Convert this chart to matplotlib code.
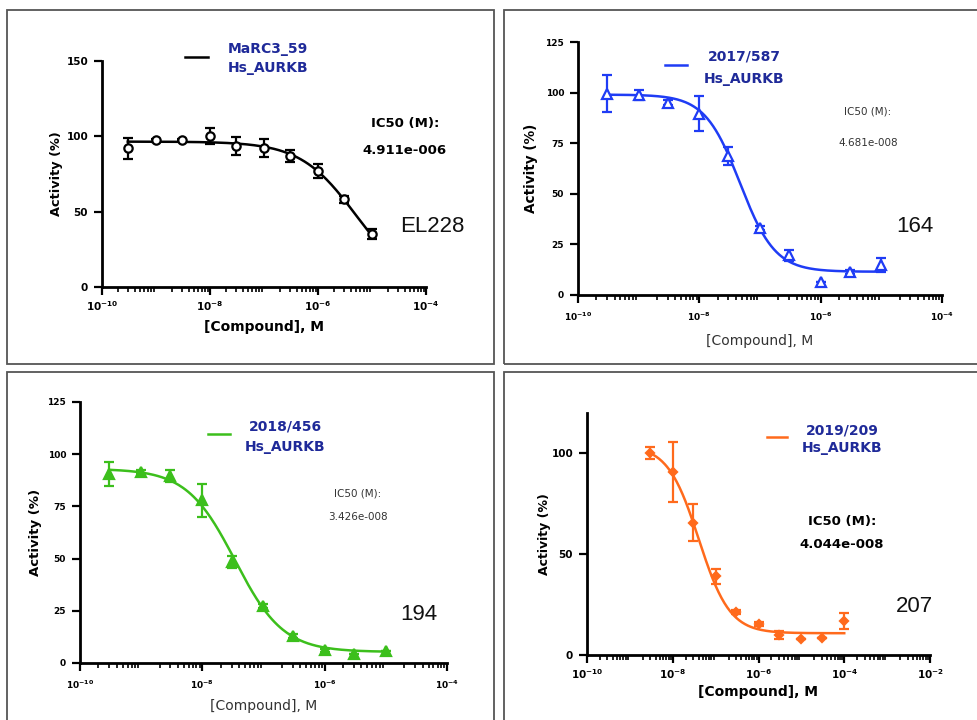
import numpy as np
import matplotlib
matplotlib.use("Agg")
import matplotlib.pyplot as plt
from matplotlib.lines import Line2D
from matplotlib.patches import Rectangle
from matplotlib.ticker import LogLocator, FixedLocator, FixedFormatter, NullFormatter

W, H = 978, 720

# concentrations (M)
conc_a = [3e-10, 1e-9, 3e-9, 1e-8, 3e-8, 1e-7, 3e-7, 1e-6, 3e-6, 1e-5]
conc_b = [3e-9, 1e-8, 3e-8, 1e-7, 3e-7, 1e-6, 3e-6, 1e-5, 3e-5, 1e-4]

# activity (%) and SD per compound
act_el228 = [92.0, 97.3, 97.7, 100.2, 93.8, 92.4, 87.1, 77.0, 58.2, 35.3]
err_el228 = [7.0, 0.8, 0.8, 5.0, 6.0, 6.0, 4.0, 4.5, 2.5, 3.3]

act_164 = [99.5, 98.8, 95.1, 89.6, 68.8, 32.9, 19.6, 6.3, 11.5, 14.8]
err_164 = [9.0, 2.4, 1.0, 8.6, 4.4, 1.0, 2.6, 0.0, 1.0, 3.3]

act_194 = [90.5, 91.5, 89.6, 77.9, 48.4, 27.3, 12.9, 6.1, 4.3, 5.7]
err_194 = [5.6, 1.0, 2.7, 8.0, 3.0, 0.8, 0.8, 0.8, 0.0, 0.0]

act_207 = [100.0, 90.7, 65.5, 39.0, 21.4, 15.4, 10.0, 8.1, 8.5, 16.7]
err_207 = [3.0, 14.8, 9.2, 3.6, 1.0, 1.0, 2.0, 0.0, 0.0, 4.0]

# fitted 4PL parameters: top, bottom, IC50, hill
fit_el228 = [96.5, 0.0, 4.911e-6, 0.85]
fit_164 = [99.0, 11.5, 4.681e-8, 1.5]
fit_194 = [93.0, 5.3, 3.426e-8, 1.1]
fit_207 = [104.0, 10.8, 4.044e-8, 1.2]

names = ["MaRC3_59", "2017/587", "2018/456", "2019/209"]
ic50_labels = ["4.911e-006", "4.681e-008", "3.426e-008", "4.044e-008"]
big_labels = ["EL228", "164", "194", "207"]

NAVY = "#1f2a99"


def fx(x):
    return x / W


def fy(y):
    return 1 - y / H


def four_pl(x, top, bottom, ic50, hill):
    return bottom + (top - bottom) / (1 + (x / ic50) ** hill)


def decade_labels(exps):
    return [r"$\mathbf{10}^{\mathbf{%d}}$" % e for e in exps]


fig = plt.figure(figsize=(W / 100, H / 100), dpi=100)

# panel frames
for x0, y0, x1, y1 in [(7, 10, 494, 364), (504, 10, 990, 364),
                       (7, 372, 494, 730), (504, 372, 990, 730)]:
    fig.add_artist(Rectangle((fx(x0), fy(y1)), fx(x1 - x0), (y1 - y0) / H,
                             transform=fig.transFigure, fill=False,
                             edgecolor="#555555", linewidth=1.3))

panels = [
    dict(box=(102, 61, 426, 287), conc=conc_a, act=act_el228, err=err_el228, fit=fit_el228,
         color="black", marker="o", mfc="white", ms=6, ylim=150, yticks=[0, 50, 100, 150],
         xexp=[-10, -8, -6, -4], bold=True, tick_fs=7.5, lab_fs=10, xpad=3, xlpad=4.5,
         ylab_fs=9.3, ylpad=2.5,
         legend=(185, 208, 57, 268, 49, 68), ic=(405, 124, 151), big=(432, 227)),
    dict(box=(578, 42, 942, 295), conc=conc_a, act=act_164, err=err_164, fit=fit_164,
         color="#1f3cf5", marker="^", mfc="white", ms=7, ylim=125, yticks=[0, 25, 50, 75, 100, 125],
         xexp=[-10, -8, -6, -4], bold=False, tick_fs=6.5, lab_fs=10, xpad=5, xlpad=8.5,
         ylab_fs=9.8, ylpad=5,
         legend=(665, 687, 65, 744, 57, 79), ic=(868, 111, 143), big=(915, 227)),
    dict(box=(80, 402, 447, 663), conc=conc_a, act=act_194, err=err_194, fit=fit_194,
         color="#3cbf1c", marker="^", mfc=None, ms=6.5, ylim=125, yticks=[0, 25, 50, 75, 100, 125],
         xexp=[-10, -8, -6, -4], bold=False, tick_fs=6.5, lab_fs=10, xpad=5, xlpad=6,
         ylab_fs=9.5, ylpad=4,
         legend=(208, 230, 434, 285, 427, 447), ic=(358, 493, 517), big=(419, 614)),
    dict(box=(587, 413, 930, 655), conc=conc_b, act=act_207, err=err_207, fit=fit_207,
         color="#ff6a1c", marker="D", mfc=None, ms=4.2, ylim=120, yticks=[0, 50, 100],
         xexp=[-10, -8, -6, -4, -2], bold=True, tick_fs=7.5, lab_fs=10, xpad=3, xlpad=3,
         ylab_fs=9, ylpad=0,
         legend=(767, 787, 437, 842, 430, 448), ic=(842, 521, 544), big=(914, 607)),
]

for i, p in enumerate(panels):
    x0, y0, x1, y1 = p["box"]
    ax = fig.add_axes([fx(x0), fy(y1), fx(x1 - x0), (y1 - y0) / H])
    c = p["color"]

    xs = np.logspace(np.log10(p["conc"][0]), np.log10(p["conc"][-1]), 200)
    ax.plot(xs, four_pl(xs, *p["fit"]), color=c, linewidth=1.8, clip_on=False)
    ax.errorbar(p["conc"], p["act"], yerr=p["err"], fmt=p["marker"], color=c,
                ecolor=c, elinewidth=1.6, capsize=3.5, capthick=1.6,
                markersize=p["ms"], markeredgewidth=1.6,
                markerfacecolor=p["mfc"] if p["mfc"] else c, clip_on=False)

    ax.set_xscale("log")
    ax.set_xlim(10.0 ** p["xexp"][0], 10.0 ** p["xexp"][-1])
    ax.set_ylim(0, p["ylim"])
    ax.xaxis.set_major_locator(FixedLocator([10.0 ** e for e in p["xexp"]]))
    ax.xaxis.set_major_formatter(FixedFormatter(decade_labels(p["xexp"])))
    ax.xaxis.set_minor_locator(LogLocator(base=10, subs=np.arange(2, 10), numticks=30))
    ax.xaxis.set_minor_formatter(NullFormatter())
    ax.set_yticks(p["yticks"])

    for s in ["top", "right"]:
        ax.spines[s].set_visible(False)
    for s in ["left", "bottom"]:
        ax.spines[s].set_linewidth(2)
    ax.tick_params(which="major", direction="out", length=6, width=1.6,
                   labelsize=p["tick_fs"], pad=4)
    ax.tick_params(which="minor", direction="out", length=3.5, width=1.2)
    ax.tick_params(axis="x", which="major", pad=p["xpad"])
    for lab in ax.get_yticklabels():
        lab.set_fontweight("bold")

    weight = "bold" if p["bold"] else "normal"
    tcol = "black" if p["bold"] else "#333333"
    ax.set_xlabel("[Compound], M", fontsize=p["lab_fs"], fontweight=weight, color=tcol,
                  labelpad=p["xlpad"])
    ax.set_ylabel("Activity (%)", fontsize=p["ylab_fs"], fontweight="bold", labelpad=p["ylpad"])

    lx0, lx1, ly, tx, ty1, ty2 = p["legend"]
    fig.add_artist(Line2D([fx(lx0), fx(lx1)], [fy(ly), fy(ly)], color=c, linewidth=1.8,
                          transform=fig.transFigure))
    fig.text(fx(tx), fy(ty1), names[i], color=NAVY, fontsize=10, fontweight="bold",
             ha="center", va="center")
    fig.text(fx(tx), fy(ty2), "Hs_AURKB", color=NAVY, fontsize=10, fontweight="bold",
             ha="center", va="center")

    icx, icy1, icy2 = p["ic"]
    ic_fs = 9.5 if p["bold"] else 7.5
    fig.text(fx(icx), fy(icy1), "IC50 (M):", fontsize=ic_fs, fontweight=weight, color=tcol,
             ha="center", va="center")
    fig.text(fx(icx), fy(icy2), ic50_labels[i], fontsize=ic_fs, fontweight=weight, color=tcol,
             ha="center", va="center")

    bx, by = p["big"]
    fig.text(fx(bx), fy(by), big_labels[i], fontsize=16, family="Liberation Sans",
             color="#111111", ha="center", va="center")

fig.savefig("out.png", dpi=100, facecolor="white")
